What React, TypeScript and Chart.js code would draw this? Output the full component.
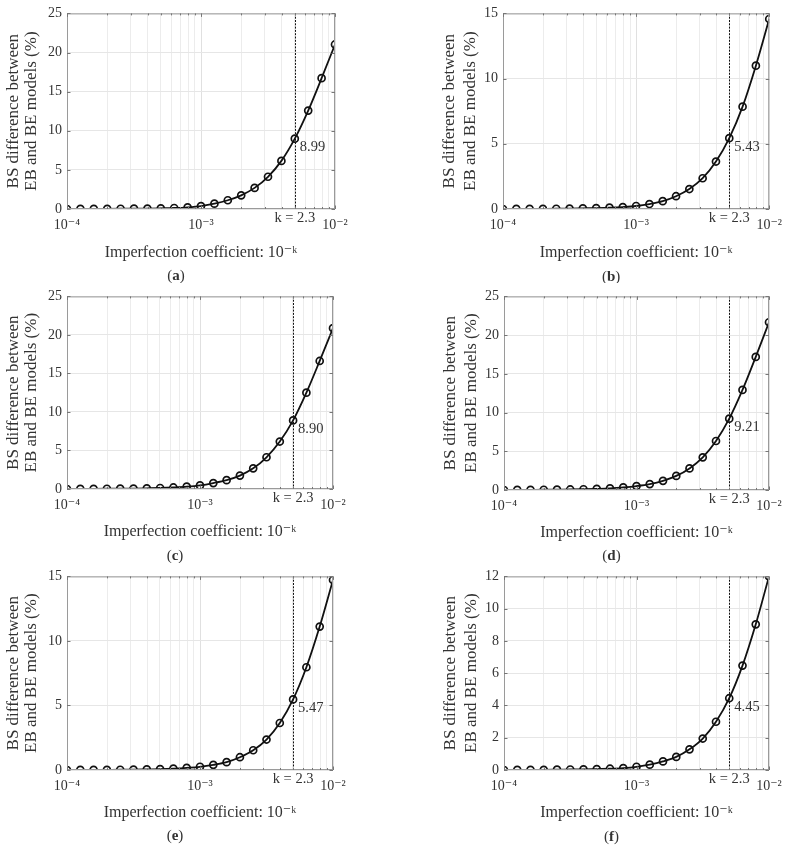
import React, { useEffect, useRef } from 'react';
import { Chart, registerables } from 'chart.js';

Chart.register(...registerables);

// ---------- data ----------
const K_VALUES = [4.0, 3.9, 3.8, 3.7, 3.6, 3.5, 3.4, 3.3, 3.2, 3.1, 3.0, 2.9, 2.8, 2.7, 2.6, 2.5, 2.4, 2.3, 2.2, 2.1, 2.0];

const SERIES_A = [0.00, 0.01, 0.01, 0.02, 0.03, 0.04, 0.06, 0.09, 0.13, 0.22, 0.38, 0.68, 1.12, 1.75, 2.70, 4.12, 6.15, 8.99, 12.58, 16.72, 21.03];
const SERIES_B = [0.00, 0.01, 0.01, 0.015, 0.02, 0.03, 0.05, 0.07, 0.10, 0.15, 0.23, 0.38, 0.60, 0.98, 1.53, 2.36, 3.64, 5.43, 7.85, 10.99, 14.57];
const SERIES_C = [0.00, 0.01, 0.02, 0.03, 0.04, 0.06, 0.09, 0.13, 0.20, 0.30, 0.47, 0.77, 1.15, 1.74, 2.68, 4.12, 6.16, 8.90, 12.50, 16.62, 20.88];
const SERIES_D = [0.00, 0.01, 0.02, 0.03, 0.05, 0.07, 0.10, 0.15, 0.22, 0.34, 0.51, 0.76, 1.18, 1.82, 2.79, 4.22, 6.33, 9.21, 12.92, 17.19, 21.66];
const SERIES_E = [0.00, 0.01, 0.01, 0.015, 0.02, 0.03, 0.05, 0.07, 0.11, 0.17, 0.25, 0.40, 0.61, 0.99, 1.53, 2.36, 3.64, 5.47, 7.96, 11.11, 14.72];
const SERIES_F = [0.00, 0.01, 0.01, 0.01, 0.02, 0.03, 0.04, 0.06, 0.08, 0.12, 0.20, 0.33, 0.53, 0.81, 1.28, 1.95, 2.99, 4.45, 6.47, 9.03, 12.00];
const SERIES = [SERIES_A, SERIES_B, SERIES_C, SERIES_D, SERIES_E, SERIES_F];

const MARK_K = 2.3;
const MARK_VALUES = [8.99, 5.43, 8.90, 9.21, 5.47, 4.45];
const MARK_LABEL = 'k = 2.3';
const PANEL_LETTERS = ['a', 'b', 'c', 'd', 'e', 'f'];
const Y_MAX = [25, 15, 25, 25, 15, 12];
const Y_STEP = [5, 5, 5, 5, 5, 2];
const X_DECADES = [-4, -3, -2];
const X_MULTIPLIERS = [1, 2, 3, 4, 5, 6, 7, 8, 9];
const Y_TITLE = ['BS difference between', 'EB and BE models (%)'];
const X_TITLE = 'Imperfection coefficient: 10\u207B\u1D4F';

// ---------- layout (page pixels) ----------
const LAYOUT = [
  { x: 0, y: 0, w: 395, h: 283, l: 67, r: 335, t: 10, b: 209, xt: 253, cap: 276, ylh: 17.5, ypt: 5 },
  { x: 395, y: 0, w: 395, h: 283, l: 503, r: 772, t: 10, b: 209, xt: 253, cap: 277, ylh: 21, ypt: 3 },
  { x: 0, y: 283, w: 395, h: 280, l: 67, r: 333, t: 293, b: 489, xt: 532, cap: 556, ylh: 17.5, ypt: 5 },
  { x: 395, y: 283, w: 395, h: 280, l: 504, r: 769, t: 293, b: 490, xt: 533, cap: 556, ylh: 21, ypt: 3 },
  { x: 0, y: 563, w: 395, h: 288, l: 67, r: 333, t: 573, b: 770, xt: 813, cap: 836, ylh: 17.5, ypt: 5 },
  { x: 395, y: 563, w: 395, h: 288, l: 504, r: 769, t: 573, b: 770, xt: 813, cap: 837, ylh: 21, ypt: 3 },
];

const FONT = "'Liberation Serif', 'DejaVu Serif', serif";
const TEXT = '#333333';
const Y_AXIS_W = 67;
const X_TITLE_LH = 17;

const SUP: Record<string, string> = {
  '-': '\u207B', '0': '\u2070', '1': '\u00B9', '2': '\u00B2', '3': '\u00B3',
  '4': '\u2074', '5': '\u2075', '6': '\u2076', '7': '\u2077', '8': '\u2078', '9': '\u2079',
};
const sup = (n: number) => String(n).split('').map((c) => SUP[c] ?? c).join('');
const isDecade = (v: number) => Math.abs(Math.log10(v) - Math.round(Math.log10(v))) < 1e-6;

function makeDecor(idx: number) {
  return {
    id: 'decor' + idx,
    beforeDatasetsDraw(chart: any) {
      const { ctx, chartArea } = chart;
      const xs = chart.scales.x;
      const lx = Math.round(xs.getPixelForValue(Math.pow(10, -MARK_K))) + 0.5;
      ctx.save();
      ctx.strokeStyle = '#111';
      ctx.lineWidth = 1;
      ctx.setLineDash([2, 1.3]);
      ctx.beginPath();
      ctx.moveTo(lx, chartArea.top);
      ctx.lineTo(lx, chartArea.bottom);
      ctx.stroke();
      ctx.restore();
    },
    afterDatasetsDraw(chart: any) {
      const { ctx, chartArea } = chart;
      const xs = chart.scales.x;
      const ys = chart.scales.y;
      ctx.save();
      ctx.strokeStyle = '#9a9a9a';
      ctx.lineWidth = 1;
      ctx.strokeRect(chartArea.left + 0.5, chartArea.top + 0.5, chartArea.right - chartArea.left - 1, chartArea.bottom - chartArea.top - 1);
      ctx.strokeStyle = '#777';
      ctx.beginPath();
      xs.ticks.forEach((t: any) => {
        const px = Math.round(xs.getPixelForValue(t.value)) + 0.5;
        const len = isDecade(t.value) ? 3.5 : 2;
        ctx.moveTo(px, chartArea.top);
        ctx.lineTo(px, chartArea.top + len);
        ctx.moveTo(px, chartArea.bottom);
        ctx.lineTo(px, chartArea.bottom - len);
      });
      ys.ticks.forEach((t: any) => {
        const py = Math.round(ys.getPixelForValue(t.value)) + 0.5;
        ctx.moveTo(chartArea.left, py);
        ctx.lineTo(chartArea.left + 3.5, py);
        ctx.moveTo(chartArea.right, py);
        ctx.lineTo(chartArea.right - 3.5, py);
      });
      ctx.stroke();
      ctx.restore();
    },
    afterDraw(chart: any) {
      const { ctx, chartArea } = chart;
      const xs = chart.scales.x;
      const ys = chart.scales.y;
      const L = LAYOUT[idx];
      const lx = xs.getPixelForValue(Math.pow(10, -MARK_K));
      const py = ys.getPixelForValue(MARK_VALUES[idx]);
      ctx.save();
      ctx.fillStyle = TEXT;
      ctx.font = `14.5px ${FONT}`;
      ctx.textBaseline = 'middle';
      ctx.textAlign = 'left';
      ctx.fillText(MARK_VALUES[idx].toFixed(2), lx + 5, py + 9);
      ctx.textAlign = 'center';
      ctx.fillText(MARK_LABEL, lx, chartArea.bottom + 9);
      const cx = (chartArea.left + chartArea.right) / 2 - 25;
      const cy = L.cap - L.y;
      const normal = `15px ${FONT}`;
      const bold = `bold 15px ${FONT}`;
      ctx.font = normal;
      const wo = ctx.measureText('(').width;
      const wc = ctx.measureText(')').width;
      ctx.font = bold;
      const wl = ctx.measureText(PANEL_LETTERS[idx]).width;
      const x0 = cx - (wo + wl + wc) / 2;
      ctx.textAlign = 'left';
      ctx.font = normal;
      ctx.fillText('(', x0, cy);
      ctx.font = bold;
      ctx.fillText(PANEL_LETTERS[idx], x0 + wo, cy);
      ctx.font = normal;
      ctx.fillText(')', x0 + wo + wl, cy);
      ctx.restore();
    },
  };
}

function Panel({ idx }: { idx: number }) {
  const ref = useRef<HTMLCanvasElement>(null);
  const L = LAYOUT[idx];
  useEffect(() => {
    const canvas = ref.current;
    if (!canvas) return;
    const padL = L.l - L.x - Y_AXIS_W;
    const padT = L.t - L.y;
    const padR = L.x + L.w - L.r;
    const xH = L.xt - L.b + X_TITLE_LH / 2;
    const padB = L.y + L.h - L.b - xH;
    const values = SERIES[idx];
    const points = K_VALUES.map((k, i) => ({ x: Math.pow(10, -k), y: values[i] }));
    const gridValues: number[] = [];
    X_DECADES.forEach((d, di) => {
      if (di === X_DECADES.length - 1) {
        gridValues.push(Math.pow(10, d));
      } else {
        X_MULTIPLIERS.forEach((m) => gridValues.push(m * Math.pow(10, d)));
      }
    });
    const chart = new Chart(canvas, {
      type: 'line',
      data: {
        datasets: [
          {
            data: points,
            borderColor: '#111',
            borderWidth: 1.8,
            pointRadius: 3.5,
            pointBorderWidth: 1.7,
            pointBorderColor: '#111',
            pointBackgroundColor: 'rgba(0,0,0,0)',
            cubicInterpolationMode: 'monotone',
            fill: false,
          },
        ],
      },
      options: {
        responsive: false,
        animation: false,
        events: [],
        layout: { padding: { left: padL, right: padR, top: padT, bottom: padB } },
        plugins: { legend: { display: false }, tooltip: { enabled: false } },
        scales: {
          x: {
            type: 'logarithmic',
            min: 1e-4,
            max: 1e-2,
            afterBuildTicks: (s: any) => {
              s.ticks = gridValues.map((v) => ({ value: v, major: isDecade(v) }));
            },
            afterFit: (s: any) => {
              s.height = xH;
            },
            border: { display: false },
            grid: {
              drawTicks: false,
              color: (c: any) => (c.tick && isDecade(c.tick.value) ? '#e0e0e0' : '#ececec'),
              lineWidth: 1,
            },
            ticks: {
              autoSkip: false,
              maxRotation: 0,
              padding: 8,
              color: TEXT,
              font: { family: FONT, size: 14 },
              callback: (v: any) => (isDecade(Number(v)) ? '10' + sup(Math.round(Math.log10(Number(v)))) : ''),
            },
            title: {
              display: true,
              text: X_TITLE,
              color: TEXT,
              font: { family: FONT, size: 16, lineHeight: X_TITLE_LH + 'px' },
              padding: { top: 0, bottom: 0 },
            },
          },
          y: {
            type: 'linear',
            min: 0,
            max: Y_MAX[idx],
            afterFit: (s: any) => {
              s.width = Y_AXIS_W;
            },
            border: { display: false },
            grid: { drawTicks: false, color: '#e6e6e6', lineWidth: 1 },
            ticks: {
              stepSize: Y_STEP[idx],
              padding: 5,
              color: TEXT,
              font: { family: FONT, size: 14 },
            },
            title: {
              display: true,
              text: Y_TITLE,
              color: TEXT,
              font: { family: FONT, size: 17, lineHeight: L.ylh + 'px' },
              padding: { top: L.ypt, bottom: 0 },
            },
          },
        },
      },
      plugins: [makeDecor(idx)],
    } as any);
    return () => chart.destroy();
  }, [idx]);
  return (
    <canvas
      ref={ref}
      width={L.w}
      height={L.h}
      style={{ position: 'absolute', left: L.x, top: L.y, width: L.w, height: L.h }}
    />
  );
}

export default function App() {
  return (
    <div style={{ position: 'absolute', left: 0, top: 0, width: 790, height: 851, background: '#fff' }}>
      {LAYOUT.map((_, i) => (
        <Panel key={i} idx={i} />
      ))}
    </div>
  );
}
